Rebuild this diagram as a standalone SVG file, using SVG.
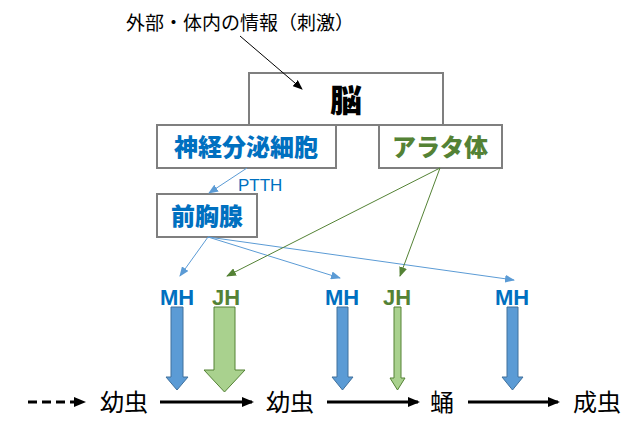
<svg xmlns="http://www.w3.org/2000/svg" width="640" height="444" viewBox="0 0 640 444">
<style>
.box{fill:#fff;stroke:#7f7f7f;stroke-width:2}
.t{font-family:"Noto Sans CJK JP",sans-serif}
.b{font-weight:900;font-size:24px}
.blue{fill:#0070c0}.green{fill:#548235}
.h{font-family:"Liberation Sans",sans-serif;font-weight:bold;font-size:22px}
.big{fill:#5b9bd5;stroke:#41719c;stroke-width:1}
.bg{fill:#a9d18e;stroke:#548235;stroke-width:1}
</style>
<defs>
<marker id="ak" markerWidth="10" markerHeight="8" refX="9" refY="4" orient="auto" markerUnits="userSpaceOnUse"><path d="M0,0L10,4L0,8z" fill="#000"/></marker>
<marker id="ab" markerWidth="10" markerHeight="8" refX="9" refY="4" orient="auto" markerUnits="userSpaceOnUse"><path d="M0,0L10,4L0,8z" fill="#5b9bd5"/></marker>
<marker id="ag" markerWidth="10" markerHeight="8" refX="9" refY="4" orient="auto" markerUnits="userSpaceOnUse"><path d="M0,0L10,4L0,8z" fill="#548235"/></marker>
<marker id="ab2" markerWidth="12" markerHeight="10" refX="10" refY="5" orient="auto" markerUnits="userSpaceOnUse"><path d="M0,0L12,5L0,10z" fill="#000"/></marker>
</defs>
<text class="t" x="240" y="30" font-size="19" text-anchor="middle">外部・体内の情報（刺激）</text>
<g id="brain"><rect class="box" x="249" y="73" width="194" height="52"/><text class="t" x="346" y="112" font-size="32" font-weight="900" text-anchor="middle">脳</text></g>
<g id="nsc"><rect class="box" x="157" y="125" width="179" height="43"/><text class="t b blue" x="246" y="156" text-anchor="middle">神経分泌細胞</text></g>
<g id="ca"><rect class="box" x="379" y="125" width="123" height="43"/><text class="t b green" x="440" y="156" text-anchor="middle">アラタ体</text></g>
<g id="pg"><rect class="box" x="157" y="194" width="100" height="43"/><text class="t b blue" x="207" y="225" text-anchor="middle">前胸腺</text></g>
<text x="238" y="191" font-family="Liberation Sans,sans-serif" font-size="17" fill="#0070c0">PTTH</text>
<g id="connectors" fill="none">
<line x1="240" y1="36" x2="302" y2="89" stroke="#000" stroke-width="1" marker-end="url(#ak)"/>
<line x1="247" y1="168" x2="209" y2="193" stroke="#5b9bd5" marker-end="url(#ab)"/>
<line x1="208" y1="237" x2="180" y2="276" stroke="#5b9bd5" marker-end="url(#ab)"/>
<line x1="208" y1="237" x2="340" y2="278" stroke="#5b9bd5" marker-end="url(#ab)"/>
<line x1="208" y1="237" x2="514" y2="280" stroke="#5b9bd5" marker-end="url(#ab)"/>
<line x1="440" y1="168" x2="227" y2="276" stroke="#548235" marker-end="url(#ag)"/>
<line x1="440" y1="168" x2="400" y2="276" stroke="#548235" marker-end="url(#ag)"/>
<line x1="28" y1="402" x2="84" y2="402" stroke="#000" stroke-width="3" stroke-dasharray="9,5" marker-end="url(#ab2)"/>
<line x1="160" y1="402" x2="252" y2="402" stroke="#000" stroke-width="3" marker-end="url(#ab2)"/>
<line x1="327" y1="402" x2="418" y2="402" stroke="#000" stroke-width="3" marker-end="url(#ab2)"/>
<line x1="468" y1="402" x2="558" y2="402" stroke="#000" stroke-width="3" marker-end="url(#ab2)"/>
</g>
<g id="hormones">
<text class="h blue" x="177" y="305" text-anchor="middle">MH</text>
<text class="h green" x="226" y="305" text-anchor="middle">JH</text>
<text class="h blue" x="342" y="305" text-anchor="middle">MH</text>
<text class="h green" x="397" y="305" text-anchor="middle">JH</text>
<text class="h blue" x="512" y="305" text-anchor="middle">MH</text>
<path class="big" d="M171,307H183V377H188L177,390L166,377H171Z"/>
<path class="bg" d="M214,307H235V370H245L224.5,392L204,370H214Z"/>
<path class="big" d="M337,307H348V377H353L342.5,390L332,377H337Z"/>
<path class="bg" d="M394,307H401V378H405L397.5,390L390,378H394Z"/>
<path class="big" d="M507,307H518V377H523L512.5,390L502,377H507Z"/>
</g>
<g id="stages" class="t" font-size="24" text-anchor="middle">
<text x="124" y="411">幼虫</text>
<text x="290" y="411">幼虫</text>
<text x="442" y="411">蛹</text>
<text x="597" y="411">成虫</text>
</g>
</svg>
